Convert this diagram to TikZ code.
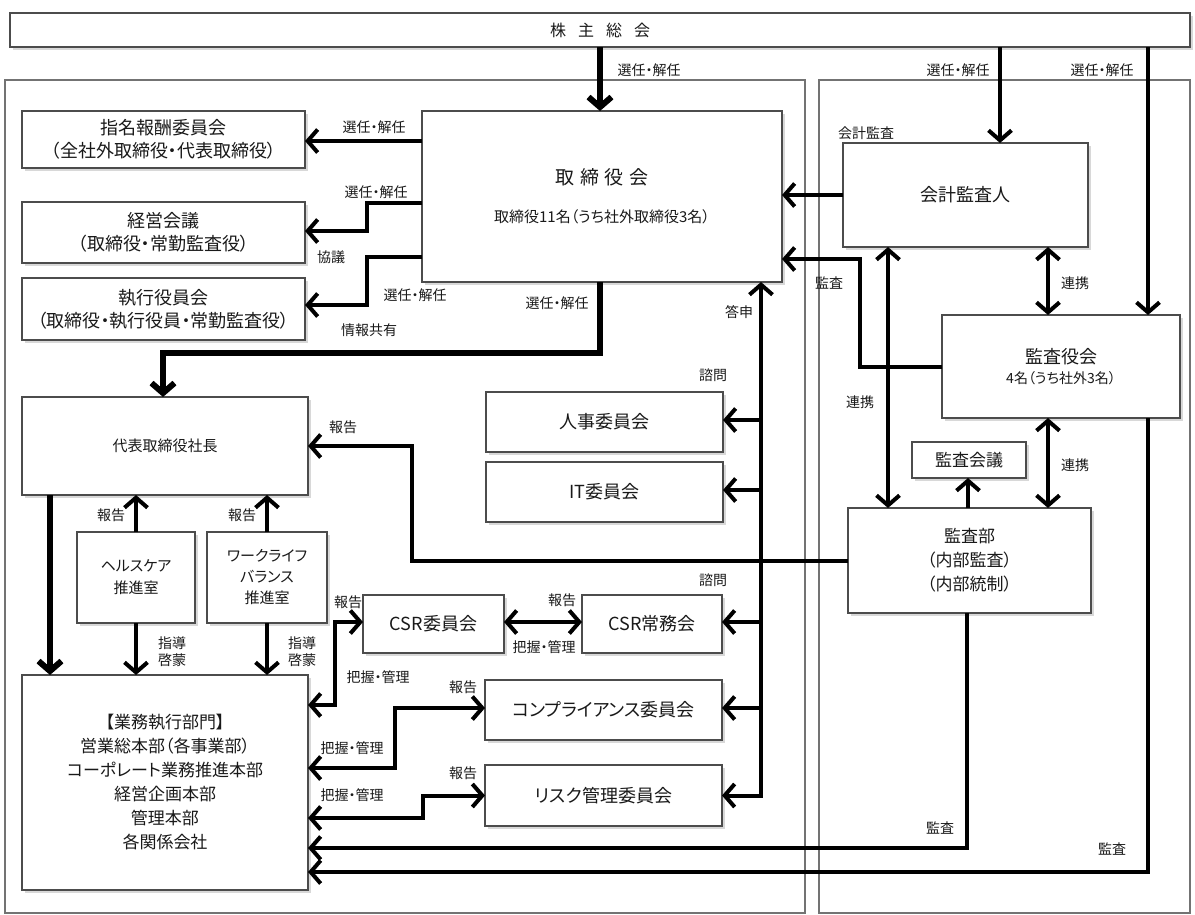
\documentclass[tikz,border=0pt]{standalone}
\usepackage{fontspec}
\setmainfont{Noto Sans CJK JP}[RawFeature={+palt}]
\usetikzlibrary{arrows.meta,shadows,calc}
\newcommand\myfs[2]{\fontsize{#1}{#2}\selectfont}
\begin{document}
\begin{tikzpicture}[x=1pt,y=-1pt,
  mybox/.style={draw=black!70, line width=1.3pt, fill=white, inner sep=0pt, outer sep=0pt,
    anchor=north west, align=center, text=black!90,
    drop shadow={shadow xshift=3pt,shadow yshift=-3pt,opacity=0.3}},
  lbl/.style={inner sep=0pt, font=\myfs{14}{16}, text=black!90},
  conn/.style={line width=4pt, draw=black},
  heavy/.style={line width=6pt},
  arrowE/.style={-{Straight Barb[length=10pt,width=23pt]}},
  arrowB/.style={{Straight Barb[length=10pt,width=23pt]}-{Straight Barb[length=10pt,width=23pt]}},
  panel/.style={draw=black!55, line width=1.3pt},
]
\fill[white] (0,0) rectangle (1195,914);
\useasboundingbox (0,0) rectangle (1195,914);

% panels
\draw[panel] (5,80) rectangle (805,913);
\draw[panel] (819,80) rectangle (1190,913);

% boxes
\node[mybox, minimum width=1180pt, minimum height=34pt, font=\myfs{16}{18}] (sh) at (10,13)
  {株\hspace{0.75em}主\hspace{0.75em}総\hspace{0.75em}会};
\node[mybox, minimum width=360pt, minimum height=171pt, font=\myfs{19}{22}] (tori) at (422,111)
  {取\hspace{0.3em}締\hspace{0.3em}役\hspace{0.3em}会\\[16pt]{\myfs{15}{17}取締役11名（うち社外取締役3名）}};
\node[mybox, minimum width=283pt, minimum height=57pt, font=\myfs{18}{23}] (shimei) at (22,111)
  {指名報酬委員会\\（全社外取締役・代表取締役）};
\node[mybox, minimum width=283pt, minimum height=61pt, font=\myfs{18}{23}] (keiei) at (22,202)
  {経営会議\\（取締役・常勤監査役）};
\node[mybox, minimum width=283pt, minimum height=62pt, font=\myfs{18}{23}] (shikko) at (22,278)
  {執行役員会\\（取締役・執行役員・常勤監査役）};
\node[mybox, minimum width=286pt, minimum height=98pt, font=\myfs{15}{18}] (daihyo) at (22,397)
  {代表取締役社長};
\node[mybox, minimum width=118pt, minimum height=91pt, font=\myfs{15}{22}] (health) at (77,532)
  {ヘルスケア\\推進室};
\node[mybox, minimum width=120pt, minimum height=91pt, font=\myfs{15}{21}] (wlb) at (207,532)
  {ワークライフ\\バランス\\推進室};
\node[mybox, minimum width=286pt, minimum height=215pt, font=\myfs{17}{24}] (gyomu) at (22,675)
  {【業務執行部門】\\営業総本部（各事業部）\\コーポレート業務推進本部\\経営企画本部\\管理本部\\各関係会社};
\node[mybox, minimum width=237pt, minimum height=60pt, font=\myfs{18}{22}] (jinji) at (486,392) {人事委員会};
\node[mybox, minimum width=237pt, minimum height=60pt, font=\myfs{18}{22}] (it) at (486,462) {IT委員会};
\node[mybox, minimum width=141pt, minimum height=58pt, font=\myfs{18}{22}] (csr) at (363,595) {CSR委員会};
\node[mybox, minimum width=140pt, minimum height=58pt, font=\myfs{18}{22}] (csrj) at (582,595) {CSR常務会};
\node[mybox, minimum width=237pt, minimum height=60pt, font=\myfs{18}{22}] (comp) at (485,680) {コンプライアンス委員会};
\node[mybox, minimum width=237pt, minimum height=61pt, font=\myfs{18}{22}] (risk) at (485,765) {リスク管理委員会};
\node[mybox, minimum width=245pt, minimum height=104pt, font=\myfs{18}{22}] (kaikei) at (843,143) {会計監査人};
\node[mybox, minimum width=238pt, minimum height=103pt, font=\myfs{18}{22}] (kansayaku) at (942,315)
  {監査役会\\[-2pt]{\myfs{14}{16}4名（うち社外3名）}};
\node[mybox, minimum width=114pt, minimum height=36pt, font=\myfs{17}{20}] (kansakaigi) at (912,442) {監査会議};
\node[mybox, minimum width=243pt, minimum height=105pt, font=\myfs{17}{24}] (kansabu) at (848,508)
  {監査部\\（内部監査）\\（内部統制）};

% connectors from shareholders
\draw[conn, heavy, arrowE] ($(sh.south west)+(590,0)$) -- ($(tori.north west)+(178,0)$);
\draw[conn, arrowE] ($(sh.south west)+(990,0)$) -- ($(kaikei.north west)+(157,0)$);
\draw[conn, arrowE] ($(sh.south west)+(1138,0)$) -- ($(kansayaku.north west)+(206,0)$);

% board to committees
\draw[conn, arrowE] ($(tori.north west)+(0,30)$) -- ($(shimei.north east)+(0,30)$);
\draw[conn, arrowE] ($(tori.north west)+(0,92)$) -- ++(-55,0) |- ($(keiei.north east)+(0,29)$);
\draw[conn, arrowE] ($(tori.north west)+(0,146)$) -- ++(-55,0) |- ($(shikko.north east)+(0,27)$);
\draw[conn, heavy, arrowE] ($(tori.south west)+(178,0)$) -- ++(0,71) -| ($(daihyo.north west)+(141,0)$);

% auditors to board
\draw[conn, arrowE] ($(kaikei.north west)+(0,52)$) -- ($(tori.north east)+(0,84)$);
\draw[conn, arrowE] ($(kansayaku.north west)+(0,52)$) -- ++(-82,0) |- ($(tori.north east)+(0,148)$);

% advisory bus
\draw[conn, arrowB] (risk.east) -- ++(39,0) -- ($(tori.south west)+(339,0)$);
\draw[conn, arrowE] ($(jinji.east)+(38,-2)$) -- ($(jinji.east)+(0,-2)$);
\draw[conn, arrowE] ($(it.east)+(38,-2)$) -- ($(it.east)+(0,-2)$);
\draw[conn, arrowE] ($(csrj.east)+(39,-2)$) -- ($(csrj.east)+(0,-2)$);
\draw[conn, arrowE] ($(comp.east)+(39,-2)$) -- ($(comp.east)+(0,-2)$);

% reports to president
\draw[conn, arrowE] (kansabu.west) -- ++(-436,0) |- (daihyo.east);
\draw[conn, arrowE] (health.north) -- (health.north |- daihyo.south);
\draw[conn, arrowE] (wlb.north) -- (wlb.north |- daihyo.south);
\draw[conn, heavy, arrowE] ($(daihyo.south west)+(28,0)$) -- ($(gyomu.north west)+(28,0)$);
\draw[conn, arrowE] (health.south) -- (health.south |- gyomu.north);
\draw[conn, arrowE] (wlb.south) -- (wlb.south |- gyomu.north);

% business execution links
\draw[conn, arrowB] ($(gyomu.north east)+(0,30)$) -- ++(27,0) |- ($(csr.west)+(0,-2)$);
\draw[conn, arrowB] ($(csr.east)+(0,-2)$) -- ($(csrj.west)+(0,-2)$);
\draw[conn, arrowB] ($(gyomu.north east)+(0,93)$) -- ++(87,0) |- ($(comp.west)+(0,-2)$);
\draw[conn, arrowB] ($(gyomu.north east)+(0,143)$) -- ++(115,0) |- (risk.west);
\draw[conn, arrowE] ($(kansabu.south west)+(119,0)$) |- ($(gyomu.north east)+(0,173)$);
\draw[conn, arrowE] ($(kansayaku.south west)+(206,0)$) |- ($(gyomu.north east)+(0,197)$);

% audit side links
\draw[conn, arrowB] ($(kaikei.south west)+(205,0)$) -- ($(kansayaku.north west)+(106,0)$);
\draw[conn, arrowB] ($(kaikei.south west)+(45,0)$) -- ($(kansabu.north west)+(40,0)$);
\draw[conn, arrowB] ($(kansayaku.south west)+(106,0)$) -- ($(kansabu.north west)+(200,0)$);
\draw[conn, arrowE] ($(kansabu.north west)+(120,0)$) -- ($(kansakaigi.south west)+(56,0)$);

% labels
\node[lbl] (l1) at (649,70) {選任・解任};
\node[lbl] (l2) at (958,70) {選任・解任};
\node[lbl] (l3) at (1102,70) {選任・解任};
\node[lbl] (l4) at (374,127) {選任・解任};
\node[lbl] (l5) at (376,192) {選任・解任};
\node[lbl] (l6) at (331,257) {協議};
\node[lbl] (l7) at (415,295) {選任・解任};
\node[lbl] (l8) at (369,330) {情報共有};
\node[lbl] (l9) at (557,303) {選任・解任};
\node[lbl] (l10) at (829,283) {監査};
\node[lbl] (l11) at (739,312) {答申};
\node[lbl] (l12) at (713,375) {諮問};
\node[lbl] (l13) at (713,580) {諮問};
\node[lbl] (l14) at (343,427) {報告};
\node[lbl] (l15) at (111,515) {報告};
\node[lbl] (l16) at (242,515) {報告};
\node[lbl] (l17) at (172,643) {指導};
\node[lbl] (l18) at (172,660) {啓蒙};
\node[lbl] (l19) at (302,643) {指導};
\node[lbl] (l20) at (302,660) {啓蒙};
\node[lbl] (l21) at (348,602) {報告};
\node[lbl] (l22) at (378,677) {把握・管理};
\node[lbl] (l23) at (562,600) {報告};
\node[lbl] (l24) at (544,647) {把握・管理};
\node[lbl] (l25) at (352,748) {把握・管理};
\node[lbl] (l26) at (463,687) {報告};
\node[lbl] (l27) at (352,795) {把握・管理};
\node[lbl] (l28) at (463,773) {報告};
\node[lbl] (l29) at (940,828) {監査};
\node[lbl] (l30) at (1112,849) {監査};
\node[lbl] (l31) at (1075,283) {連携};
\node[lbl] (l32) at (860,402) {連携};
\node[lbl] (l33) at (1075,465) {連携};
\node[lbl] (l34) at (866,133) {会計監査};
\end{tikzpicture}
\end{document}
